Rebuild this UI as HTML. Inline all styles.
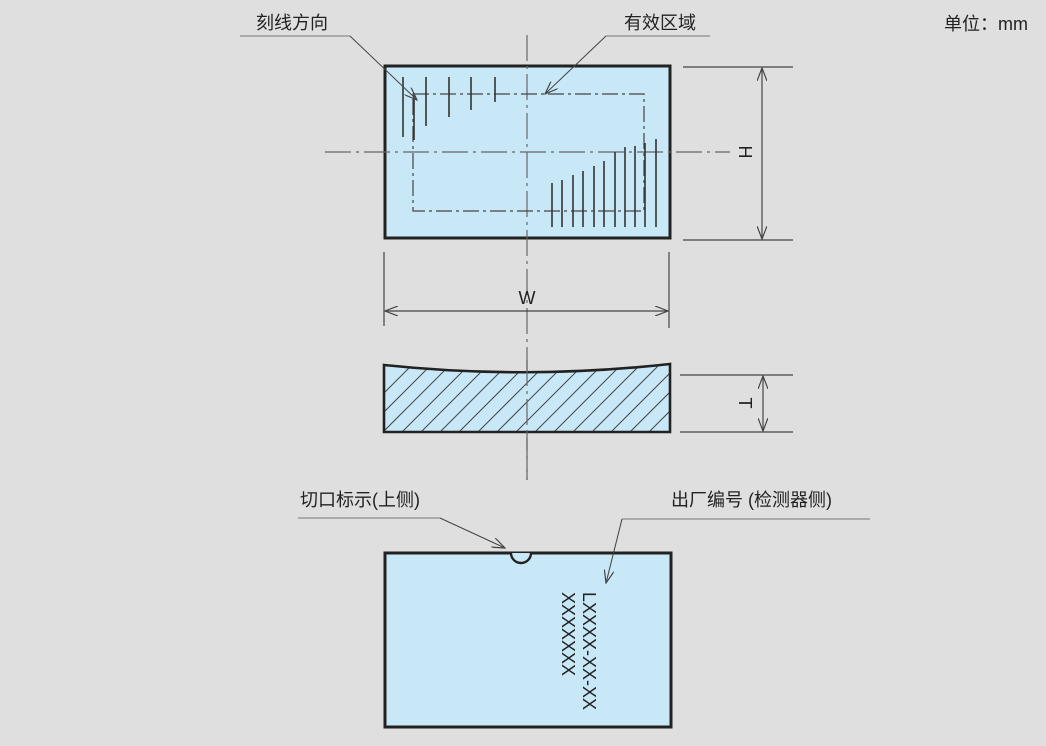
<!DOCTYPE html>
<html><head><meta charset="utf-8"><style>
html,body{margin:0;padding:0;background:#dfdfe0}
svg{display:block}
text{font-family:"Liberation Sans","Noto Sans CJK SC",sans-serif;fill:#222}
</style></head><body>
<svg width="1046" height="746" viewBox="0 0 1046 746" xmlns="http://www.w3.org/2000/svg">
<defs>
<marker id="a" markerWidth="14" markerHeight="10" refX="13" refY="5" orient="auto-start-reverse" markerUnits="userSpaceOnUse"><path d="M0,0 L13,5 L0,10" fill="none" stroke="#444" stroke-width="1.2"/></marker>
<clipPath id="sec"><path d="M384,365 Q527,380 670,364 L670,432 L384,432 Z"/></clipPath>
</defs>
<rect width="1046" height="746" fill="#dfdfe0"/>
<g font-size="18">
<text x="256" y="29">刻线方向</text>
<text x="624" y="29">有效区域</text>
<text x="944" y="30">单位：mm</text>
<text x="300" y="506">切口标示(上侧)</text>
<text x="671" y="506">出厂编号 (检测器侧)</text>
</g>
<g stroke="#777" stroke-width="1" fill="none">
<line x1="240" y1="36" x2="350" y2="36"/>
<line x1="606" y1="36" x2="710" y2="36"/>
<line x1="298" y1="518" x2="440" y2="518"/>
<line x1="622" y1="519" x2="870" y2="519"/>
</g>
<rect x="385" y="66" width="285" height="172" fill="#c8e8f8" stroke="#222" stroke-width="3"/>
<g stroke="#666" stroke-width="1.2" fill="none" stroke-dasharray="26,5,3,5">
<line x1="527" y1="35" x2="527" y2="480"/>
<line x1="325" y1="152" x2="730" y2="152"/>
</g>
<rect x="413" y="94" width="231" height="117" fill="none" stroke="#444" stroke-width="1.2" stroke-dasharray="16,4,3,4"/>
<g stroke="#333" stroke-width="1.6">
<line x1="403" y1="77" x2="403" y2="137"/>
<line x1="414" y1="95" x2="414" y2="140"/>
<line x1="426" y1="77" x2="426" y2="126"/>
<line x1="449" y1="77" x2="449" y2="117"/>
<line x1="471" y1="77" x2="471" y2="110"/>
<line x1="495" y1="77" x2="495" y2="102"/>
<line x1="552" y1="183" x2="552" y2="227"/>
<line x1="562" y1="180" x2="562" y2="227"/>
<line x1="573" y1="175" x2="573" y2="227"/>
<line x1="583" y1="171" x2="583" y2="227"/>
<line x1="594" y1="166" x2="594" y2="227"/>
<line x1="604" y1="161" x2="604" y2="227"/>
<line x1="615" y1="152" x2="615" y2="227"/>
<line x1="625" y1="147" x2="625" y2="227"/>
<line x1="635" y1="146" x2="635" y2="227"/>
<line x1="645" y1="143" x2="645" y2="227"/>
<line x1="656" y1="139" x2="656" y2="227"/>
</g>
<g stroke="#444" stroke-width="1.2" fill="none">
<line x1="683" y1="67" x2="793" y2="67"/>
<line x1="683" y1="240" x2="793" y2="240"/>
<line x1="762" y1="68" x2="762" y2="239" marker-end="url(#a)" marker-start="url(#a)"/>
<line x1="384" y1="252" x2="384" y2="326"/>
<line x1="669" y1="252" x2="669" y2="328"/>
<line x1="385" y1="311" x2="668" y2="311" marker-end="url(#a)" marker-start="url(#a)"/>
<line x1="680" y1="375" x2="793" y2="375"/>
<line x1="680" y1="432" x2="793" y2="432"/>
<line x1="763" y1="376" x2="763" y2="431" marker-end="url(#a)" marker-start="url(#a)"/>
</g>
<text x="745" y="152" font-size="18" text-anchor="middle" transform="rotate(90 745 152)" dy="6">H</text>
<text x="527" y="304" font-size="18" text-anchor="middle">W</text>
<text x="745" y="403" font-size="18" text-anchor="middle" transform="rotate(90 745 403)" dy="6">T</text>
<path d="M384,365 Q527,380 670,364 L670,432 L384,432 Z" fill="#c8e8f8"/>
<g clip-path="url(#sec)" stroke="#444" stroke-width="1">
<line x1="364" y1="432" x2="434" y2="362"/><line x1="383" y1="432" x2="453" y2="362"/>
<line x1="402" y1="432" x2="472" y2="362"/><line x1="421" y1="432" x2="491" y2="362"/>
<line x1="440" y1="432" x2="510" y2="362"/><line x1="459" y1="432" x2="529" y2="362"/>
<line x1="478" y1="432" x2="548" y2="362"/><line x1="497" y1="432" x2="567" y2="362"/>
<line x1="516" y1="432" x2="586" y2="362"/><line x1="535" y1="432" x2="605" y2="362"/>
<line x1="554" y1="432" x2="624" y2="362"/><line x1="573" y1="432" x2="643" y2="362"/>
<line x1="592" y1="432" x2="662" y2="362"/><line x1="611" y1="432" x2="681" y2="362"/>
<line x1="630" y1="432" x2="700" y2="362"/><line x1="649" y1="432" x2="719" y2="362"/>
<line x1="345" y1="432" x2="415" y2="362"/>
</g>
<path d="M384,365 Q527,380 670,364 L670,432 L384,432 Z" fill="none" stroke="#222" stroke-width="2.6"/>
<line x1="527" y1="360" x2="527" y2="480" stroke="#666" stroke-width="1.2" stroke-dasharray="26,5,3,5"/>
<rect x="385" y="553" width="286" height="174" fill="#c8e8f8" stroke="#222" stroke-width="3"/>
<path d="M511,553 A10,10 0 0 0 531,553" fill="#c8e8f8" stroke="#222" stroke-width="2.4"/>
<g font-size="18" font-family="Liberation Sans, sans-serif">
<text transform="translate(583,592) rotate(90)">LXXXX-XX-XX</text>
<text transform="translate(562,592) rotate(90)">XXXXXXX</text>
</g>
<g stroke="#444" stroke-width="1" fill="none">
<line x1="350" y1="36" x2="417" y2="100" marker-end="url(#a)"/>
<line x1="606" y1="36" x2="545" y2="94" marker-end="url(#a)"/>
<line x1="440" y1="518" x2="505" y2="548" marker-end="url(#a)"/>
<line x1="622" y1="519" x2="606" y2="583" marker-end="url(#a)"/>
</g>
</svg>
</body></html>
